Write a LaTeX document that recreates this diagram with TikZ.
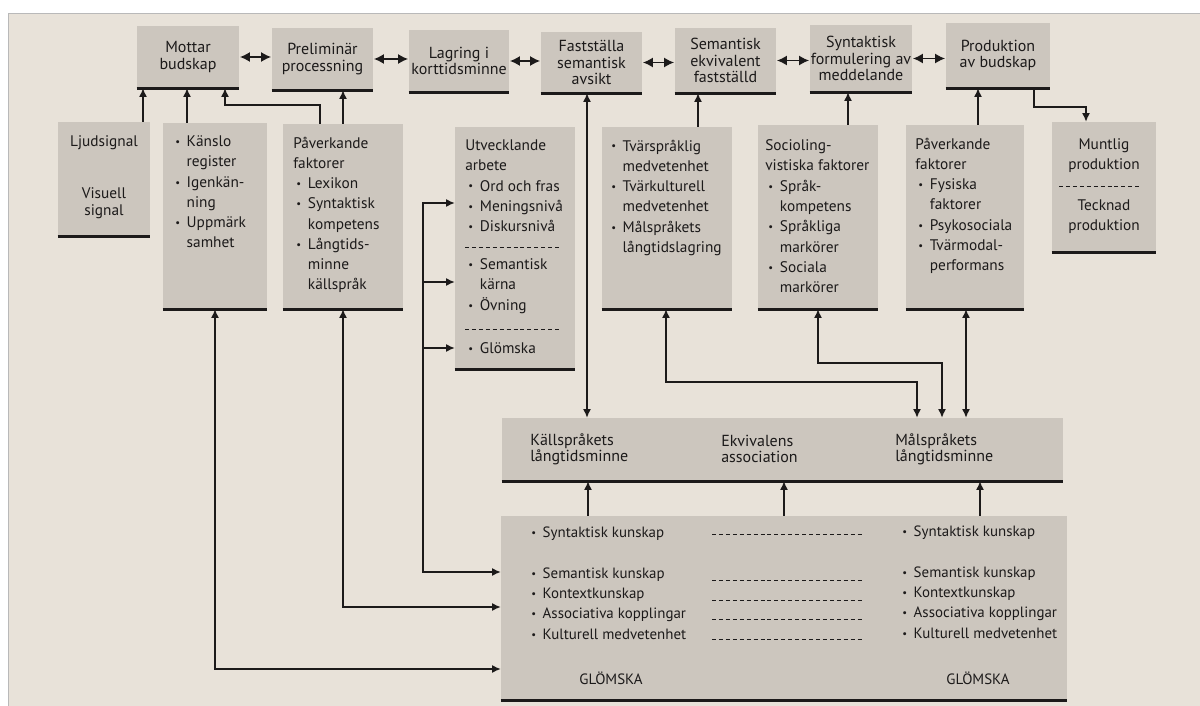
\documentclass[tikz,border=0pt]{standalone}
\usepackage{fontspec}
\setmainfont{PT Sans}
\usetikzlibrary{arrows.meta,fit,calc}
\definecolor{pagec}{RGB}{232,226,217}
\definecolor{boxc}{RGB}{204,198,190}
\definecolor{inkc}{RGB}{28,26,26}
\newcommand\bl{\makebox[8.6pt][l]{\raisebox{0.8pt}{\footnotesize\textbullet}}}
\newcommand\cl{\hspace*{8.6pt}}
\newcommand\bli{\hspace*{2.4pt}\bl}
\newcommand\cli{\hspace*{2.4pt}\cl}
\tikzset{
  gbox/.style={fill=boxc, draw=none, inner sep=0pt},
  botl/.style={line width=2.2pt, line cap=butt, draw=inkc},
  tx/.style={inner sep=0pt, text=inkc, font=\fontsize{11.5}{15.2}\selectfont, align=left, anchor=north west, execute at begin node=\strut},
  txk/.style={tx, font=\fontsize{11.2}{15.2}\selectfont},
  tc/.style={inner sep=0pt, text=inkc, font=\fontsize{12}{12.3}\selectfont, align=center},
  tcl/.style={inner sep=0pt, text=inkc, font=\fontsize{11.5}{15}\selectfont, align=center},
  tb/.style={inner sep=0pt, text=inkc, font=\fontsize{12}{12}\selectfont, align=left, anchor=west},
  lin/.style={line width=1pt, draw=inkc},
  arr/.style={lin, -{Latex[length=6.5pt,width=6pt]}},
  darr/.style={lin, {Latex[length=6.5pt,width=6pt]}-{Latex[length=6.5pt,width=6pt]}},
  harr/.style={line width=1.1pt, draw=inkc, {Latex[length=7.5pt,width=7.5pt]}-{Latex[length=7.5pt,width=7.5pt]}, shorten <=0.5pt, shorten >=0.5pt},
  sepl/.style={draw=inkc, line width=0.5pt, dash pattern=on 3pt off 2.2pt},
}
\begin{document}
\begin{tikzpicture}[x=0.75pt,y=-0.75pt]
\useasboundingbox (0,0) rectangle (1200,706);
\fill[white] (0,0) rectangle (1200,706);
\fill[pagec] (8,13) rectangle (1200,706);
\draw[gray!55, line width=0.6pt] (8,706) -- (8,13) -- (1200,13);

% top row
\node[gbox, fit={(137,26) (239,88)}] (mot) {};
\node[gbox, fit={(272,28) (373,90)}] (pre) {};
\node[gbox, fit={(409,30) (509,92)}] (lag) {};
\node[gbox, fit={(541,32) (642,93)}] (fas) {};
\node[gbox, fit={(675,28) (776,93)}] (sem) {};
\node[gbox, fit={(810,25) (912,92)}] (syn) {};
\node[gbox, fit={(946,23) (1050,88)}] (pro) {};
% second row
\node[gbox, fit={(58,122) (150,236)}] (lju) {};
\node[gbox, fit={(163,123) (267,309)}] (kan) {};
\node[gbox, fit={(283,124) (403,309)}] (pav) {};
\node[gbox, fit={(455,127) (575,369)}] (utv) {};
\node[gbox, fit={(602,127) (732,309)}] (tva) {};
\node[gbox, fit={(758,125) (878,309)}] (soc) {};
\node[gbox, fit={(906,125) (1024,309)}] (pa2) {};
\node[gbox, fit={(1052,122) (1156,252)}] (mun) {};
% band and bottom
\node[gbox, fit={(502,418) (1063,481)}] (band) {};
\node[gbox, fit={(501,516) (1067,700)}] (kun) {};

\foreach \n in {mot,pre,lag,fas,sem,syn,pro,lju,kan,pav,utv,tva,soc,pa2,mun,band,kun}
  \draw[botl] (\n.south west) -- (\n.south east);

% top texts
\node[tc] (tmot) at (mot) {Mottar\\budskap};
\node[tc] (tpre) at (pre) {Preliminär\\processning};
\node[tc] (tlag) at (lag) {Lagring i\\korttidsminne};
\node[tc] (tfas) at (fas) {Fastställa\\semantisk\\avsikt};
\node[tc] (tsem) at (sem) {Semantisk\\ekvivalent\\fastställd};
\node[tc] (tsyn) at (syn) {Syntaktisk\\formulering av\\meddelande};
\node[tc] (tpro) at (pro) {Produktion\\av budskap};

% horizontal arrows top
\draw[harr] (mot.east) -- (mot.east -| pre.west);
\draw[harr] (pre.east) -- (pre.east -| lag.west);
\draw[harr] (lag.east) -- (lag.east -| fas.west);
\draw[harr] (fas.east) -- (fas.east -| sem.west);
\draw[harr] (sem.east) -- (sem.east -| syn.west);
\draw[harr] (syn.east) -- (syn.east -| pro.west);

% second row texts
\node[tcl] (tlju1) at (104,143) {Ljudsignal};
\node[tc, font=\fontsize{11.5}{12.5}\selectfont] (tlju2) at (104,203.5) {Visuell\\signal};
\node[tx] (tkan) at (175,135.5) {\bl Känslo\\\cl register\\\bl Igenkän-\\\cl ning\\\bl Uppmärk\\\cl samhet};
\node[tx] (tpav) at (293,136.5) {Påverkande\\faktorer\\\bli Lexikon\\\bli Syntaktisk\\\cli kompetens\\\bli Långtids-\\\cli minne\\\cli källspråk};
\node[tx] (tut1) at (465,139.5) {Utvecklande\\arbete\\\bli Ord och fras\\\bli Meningsnivå\\\bli Diskursnivå};
\node[tx] (tut2) at (465,258.5) {\bli Semantisk\\\cli kärna\\\bli Övning};
\node[tx] (tut3) at (465,339.5) {\bli Glömska};
\draw[sepl] (465,247) -- (562,247);
\draw[sepl] (465,329) -- (562,329);
\node[tx] (ttva) at (611,139.5) {\bl Tvärspråklig\\\cl medvetenhet\\\bl Tvärkulturell\\\cl medvetenhet\\\bl Målspråkets\\\cl långtidslagring};
\node[tx] (tsoc) at (765,139.5) {Socioling-\\vistiska faktorer\\\bli Språk-\\\cli kompetens\\\bli Språkliga\\\cli markörer\\\bli Sociala\\\cli markörer};
\node[tx] (tpa2) at (915,137.5) {Påverkande\\faktorer\\\bli Fysiska\\\cli faktorer\\\bli Psykosociala\\\bli Tvärmodal-\\\cli performans};
\node[tcl] (tmun1) at (1104,155.5) {Muntlig\\produktion};
\draw[sepl] (1059,186) -- (1140,186);
\node[tcl] (tmun2) at (1104,216.5) {Tecknad\\produktion};

% band texts
\node[tb] (tb1) at (530,449) {Källspråkets\\långtidsminne};
\node[tb] (tb2) at (721,449) {Ekvivalens\\association};
\node[tb] (tb3) at (895,449) {Målspråkets\\långtidsminne};

% bottom box texts
\node[txk] (tk1) at (531,523.5) {\bl Syntaktisk kunskap};
\node[txk] (tk2) at (531,567.5) {\bl Semantisk kunskap\\\bl Kontextkunskap\\\bl Associativa kopplingar\\\bl Kulturell medvetenhet};
\node[txk] (tk3) at (902,522.5) {\bl Syntaktisk kunskap};
\node[txk] (tk4) at (902,566.5) {\bl Semantisk kunskap\\\bl Kontextkunskap\\\bl Associativa kopplingar\\\bl Kulturell medvetenhet};
\node[tc, font=\fontsize{11.2}{12}\selectfont] (tg1) at (611,678) {GLÖMSKA};
\node[tc, font=\fontsize{11.2}{12}\selectfont] (tg2) at (978,678) {GLÖMSKA};
\foreach \yy in {534,580,600,619,639}
  \draw[sepl] (712,\yy) -- (864,\yy);

% connectors into top row
\draw[arr] (143,0 |- lju.north) -- (143,0 |- mot.south);
\draw[arr] (187,0 |- kan.north) -- (187,0 |- mot.south);
\draw[arr] (320,0 |- pav.north) -- (320,105) -- (225,105) -- (225,0 |- mot.south);
\draw[arr] (343,0 |- pav.north) -- (343,0 |- pre.south);
\draw[darr] (587,0 |- fas.south) -- (587,0 |- band.north);
\draw[arr] (698,0 |- tva.north) -- (698,0 |- sem.south);
\draw[arr] (848,0 |- soc.north) -- (848,0 |- syn.south);
\draw[arr] (978,0 |- pa2.north) -- (978,0 |- pro.south);
\draw[arr] (1034,0 |- pro.south) -- (1034,107) -- (1086,107) -- (1086,0 |- mun.north);

% left connectors to bottom box
\draw[darr] (215,0 |- kan.south) -- (215,669) -- (kun.west |- 0,669);
\draw[darr] (343,0 |- pav.south) -- (343,607) -- (kun.west |- 0,607);
\draw[darr] (utv.west |- 0,203) -- (423,203) -- (423,572) -- (kun.west |- 0,572);
\draw[arr] (423,282) -- (utv.west |- 0,282);
\draw[arr] (423,348) -- (utv.west |- 0,348);

% middle connectors to band
\draw[darr] (666,0 |- tva.south) -- (666,382) -- (917,382) -- (917,0 |- band.north);
\draw[darr] (818,0 |- soc.south) -- (818,363) -- (942,363) -- (942,0 |- band.north);
\draw[darr] (966,0 |- pa2.south) -- (966,0 |- band.north);
\draw[arr] (588,0 |- kun.north) -- (588,0 |- band.south);
\draw[arr] (784,0 |- kun.north) -- (784,0 |- band.south);
\draw[arr] (980,0 |- kun.north) -- (980,0 |- band.south);
\end{tikzpicture}
\end{document}
